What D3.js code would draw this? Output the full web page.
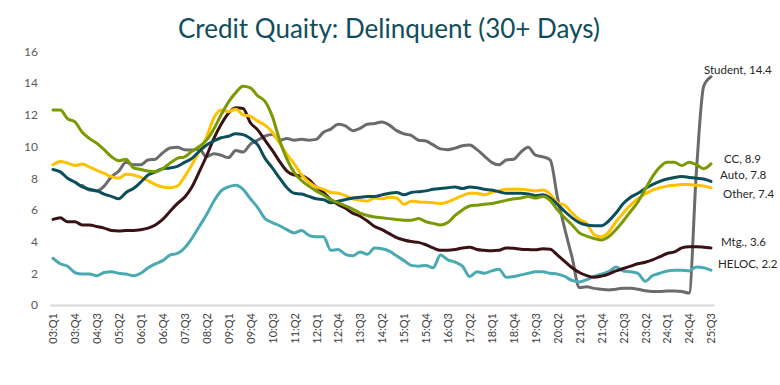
<!DOCTYPE html>
<html>
<head>
<meta charset="utf-8">
<script src="https://cdn.jsdelivr.net/npm/d3@7"></script>
<style>
  body { margin: 0; background: #fff; }
  text { font-family: Lato, "Open Sans", sans-serif; }
</style>
</head>
<body>
<script>
// quarters 03:Q1 .. 25:Q3
var quarters = [];
for (var yr = 3; yr <= 25; yr++) {
    for (var q = 1; q <= 4; q++) {
        if (yr == 25 && q > 3) break;
        quarters.push((yr < 10 ? "0" + yr : "" + yr) + ":Q" + q);
    }
}
var yTicks = [0, 2, 4, 6, 8, 10, 12, 14, 16];

// delinquency rates, %
var cc = [12.3, 12.3, 11.75, 11.55, 10.9, 10.5, 10.2, 9.8, 9.35, 9.1, 9.2, 8.65, 8.55, 8.45, 8.4, 8.6, 8.95, 9.25, 9.35, 9.7,
    10.0, 10.4, 11.1, 12.0, 12.8, 13.4, 13.8, 13.7, 13.2, 12.85, 11.9, 10.4, 9.2, 8.35, 7.85, 7.5, 7.2, 6.95, 6.65, 6.45,
    6.25, 6.05, 5.8, 5.65, 5.55, 5.5, 5.45, 5.4, 5.35, 5.35, 5.45, 5.25, 5.15, 5.05, 5.2, 5.65, 6.0, 6.25, 6.3, 6.35,
    6.4, 6.5, 6.6, 6.7, 6.75, 6.85, 6.75, 6.85, 6.6, 6.0, 5.5, 5.05, 4.55, 4.35, 4.2, 4.1, 4.3, 4.75, 5.3, 5.9,
    6.5, 7.3, 8.1, 8.7, 9.0, 9.0, 8.8, 9.0, 8.85, 8.6, 8.9];
var auto = [8.55, 8.4, 8.0, 7.75, 7.45, 7.3, 7.2, 7.0, 6.85, 6.7, 7.1, 7.35, 7.75, 8.2, 8.4, 8.6, 8.65, 8.75, 9.0, 9.25,
    9.7, 10.1, 10.35, 10.55, 10.65, 10.8, 10.75, 10.5, 10.1, 9.25, 8.65, 8.0, 7.4, 7.05, 7.0, 6.85, 6.7, 6.65, 6.45, 6.55,
    6.65, 6.75, 6.8, 6.85, 6.85, 6.95, 7.05, 7.1, 6.95, 7.1, 7.15, 7.2, 7.3, 7.35, 7.4, 7.45, 7.35, 7.45, 7.4, 7.3,
    7.25, 7.15, 7.05, 7.05, 7.05, 7.0, 6.9, 6.95, 6.75, 6.35, 5.9, 5.5, 5.2, 5.05, 5.0, 5.0, 5.3, 5.8, 6.4, 6.8,
    7.05, 7.35, 7.6, 7.8, 7.95, 8.05, 8.1, 8.05, 8.0, 7.95, 7.8];
var other = [8.85, 9.05, 8.95, 8.8, 8.9, 8.7, 8.5, 8.3, 8.1, 8.0, 8.25, 8.2, 8.05, 7.85, 7.6, 7.45, 7.4, 7.5, 8.1, 8.85,
    9.7, 10.6, 11.8, 12.3, 12.2, 12.35, 12.0, 11.9, 11.6, 11.35, 10.9, 10.2, 9.5, 8.9, 8.2, 7.75, 7.45, 7.3, 7.1, 7.05,
    6.9, 6.7, 6.6, 6.55, 6.75, 6.7, 6.8, 6.75, 6.35, 6.55, 6.5, 6.48, 6.45, 6.4, 6.5, 6.7, 6.9, 7.05, 7.05, 6.95,
    7.1, 7.2, 7.3, 7.3, 7.3, 7.25, 7.2, 7.25, 7.0, 6.45, 6.3, 5.8, 5.4, 5.15, 4.45, 4.3, 4.6, 5.25, 5.8, 6.3,
    6.7, 7.0, 7.25, 7.4, 7.5, 7.55, 7.6, 7.6, 7.55, 7.5, 7.4];
var mtg = [5.4, 5.5, 5.25, 5.25, 5.05, 5.05, 4.95, 4.85, 4.7, 4.67, 4.7, 4.7, 4.75, 4.85, 5.05, 5.4, 5.9, 6.4, 6.8, 7.45,
    8.4, 9.4, 10.5, 11.4, 12.1, 12.45, 12.4, 11.5, 11.05, 10.4, 9.75, 9.05, 8.45, 8.2, 8.15, 7.9, 7.45, 7.1, 6.65, 6.35,
    6.1, 5.8, 5.6, 5.3, 4.95, 4.75, 4.5, 4.25, 4.1, 4.0, 3.95, 3.8, 3.6, 3.45, 3.45, 3.5, 3.6, 3.65, 3.5, 3.45,
    3.42, 3.45, 3.6, 3.58, 3.52, 3.5, 3.48, 3.55, 3.52, 3.15, 2.75, 2.35, 2.05, 1.85, 1.75, 1.82, 1.95, 2.15, 2.3, 2.45,
    2.6, 2.7, 2.85, 3.05, 3.25, 3.35, 3.6, 3.68, 3.68, 3.65, 3.6];
var heloc = [2.95, 2.6, 2.45, 2.05, 1.95, 1.95, 1.85, 2.05, 2.1, 2.0, 1.95, 1.85, 2.0, 2.35, 2.6, 2.8, 3.15, 3.25, 3.6, 4.2,
    4.95, 5.7, 6.55, 7.2, 7.45, 7.55, 7.3, 6.7, 6.15, 5.45, 5.2, 5.0, 4.75, 4.55, 4.7, 4.4, 4.3, 4.3, 3.45, 3.5,
    3.2, 3.1, 3.35, 3.2, 3.6, 3.55, 3.4, 3.1, 2.8, 2.5, 2.45, 2.5, 2.35, 3.15, 2.85, 2.7, 2.45, 1.8, 2.1, 2.0,
    2.15, 2.25, 1.75, 1.8, 1.9, 2.0, 2.1, 2.1, 2.0, 1.95, 1.8, 1.55, 1.45, 1.6, 1.8, 1.95, 2.1, 2.4, 2.15, 2.1,
    2.0, 1.5, 1.85, 2.0, 2.15, 2.2, 2.2, 2.15, 2.4, 2.35, 2.2];
var student = [null, null, null, null, 7.55, 7.25, 7.2, 7.5, 8.1, 8.45, 9.0, 8.85, 8.85, 9.15, 9.2, 9.6, 9.9, 9.95, 9.8, 9.78,
    9.85, 9.35, 9.55, 9.45, 9.3, 9.75, 9.65, 10.15, 10.4, 10.65, 10.75, 10.4, 10.5, 10.4, 10.45, 10.4, 10.45, 10.9, 11.1, 11.4,
    11.3, 11.0, 11.15, 11.4, 11.45, 11.55, 11.35, 11.0, 10.8, 10.7, 10.4, 10.35, 10.1, 9.85, 9.8, 9.9, 10.05, 10.1, 9.8, 9.4,
    9.0, 8.85, 9.15, 9.2, 9.65, 9.95, 9.45, 9.35, 9.15, 6.8, 4.8, 3.0, 1.1, 1.15, 1.05, 1.0, 0.95, 1.0, 1.05, 1.05,
    1.0, 0.9, 0.85, 0.85, 0.88, 0.88, 0.85, 0.75, 8.4, 13.8, 14.4];

var names = ["Student", "CC", "Auto", "Other", "Mtg.", "HELOC"];
var seriesData = [student, cc, auto, other, mtg, heloc];
var colors = ["#6b6b6b", "#7a9a01", "#0b4f5c", "#ffc000", "#3a1214", "#4aa9b1"];
// end label nudges (dx, dy) from last point
var labelNudge = [[-7, -7], [13, -5], [9, -6], [12, 6], [10, -6], [7, -6]];

var w = 780, h = 385;
var svg = d3.select("body").append("svg")
    .attr("width", w)
    .attr("height", h);

var x = d3.scalePoint()
    .domain(quarters)
    .range([50, 714])
    .padding(0.41);
var y = d3.scaleLinear()
    .domain([0, 16])
    .range([305, 51.4]);

// title
svg.append("text")
    .attr("x", 389)
    .attr("y", 38)
    .attr("text-anchor", "middle")
    .style("font-size", "26px")
    .style("fill", "#114d5c")
    .text("Credit Quaity: Delinquent (30+ Days)");

// y axis
var yAxis = svg.append("g")
    .attr("transform", "translate(40,0)")
    .call(d3.axisLeft(y).tickValues(yTicks).tickSize(0).tickPadding(2));
yAxis.select(".domain").remove();
yAxis.selectAll("text")
    .style("font-size", "12px")
    .style("fill", "#595959")
    .style("font-family", "Lato, sans-serif");

// x axis
var xAxis = svg.append("g")
    .attr("transform", "translate(0,305)")
    .call(d3.axisBottom(x)
        .tickValues(quarters.filter(function(d, i) { return i % 3 == 0; }))
        .tickSize(0)
        .tickSizeOuter(0));
xAxis.select(".domain")
    .attr("stroke", "#d9d9d9")
    .attr("stroke-width", 2);
xAxis.selectAll("text")
    .attr("transform", "rotate(-90)")
    .attr("text-anchor", "end")
    .attr("x", -8)
    .attr("y", 0)
    .attr("dy", "0.35em")
    .style("font-size", "11px")
    .style("fill", "#404040")
    .style("font-family", "Lato, sans-serif");

// lines
var line = d3.line()
    .defined(function(d) { return d != null; })
    .x(function(d, i) { return x(quarters[i]); })
    .y(function(d) { return y(d); })
    .curve(d3.curveMonotoneX);

// draw order: back to front
var order = [0, 5, 4, 3, 2, 1];
order.forEach(function(k) {
    svg.append("path")
        .datum(seriesData[k])
        .attr("fill", "none")
        .attr("stroke", colors[k])
        .attr("stroke-width", 3)
        .attr("stroke-linejoin", "round")
        .attr("stroke-linecap", "round")
        .attr("d", line);
});

// end labels
names.forEach(function(n, k) {
    var vals = seriesData[k];
    var last = vals[vals.length - 1];
    var lx = x(quarters[quarters.length - 1]) + labelNudge[k][0];
    var ly = y(last) + labelNudge[k][1];
    svg.append("text")
        .attr("x", lx)
        .attr("y", ly)
        .attr("dy", "0.35em")
        .style("font-size", "11.5px")
        .style("fill", "#262626")
        .text(n + ", " + last);
});
</script>
</body>
</html>
